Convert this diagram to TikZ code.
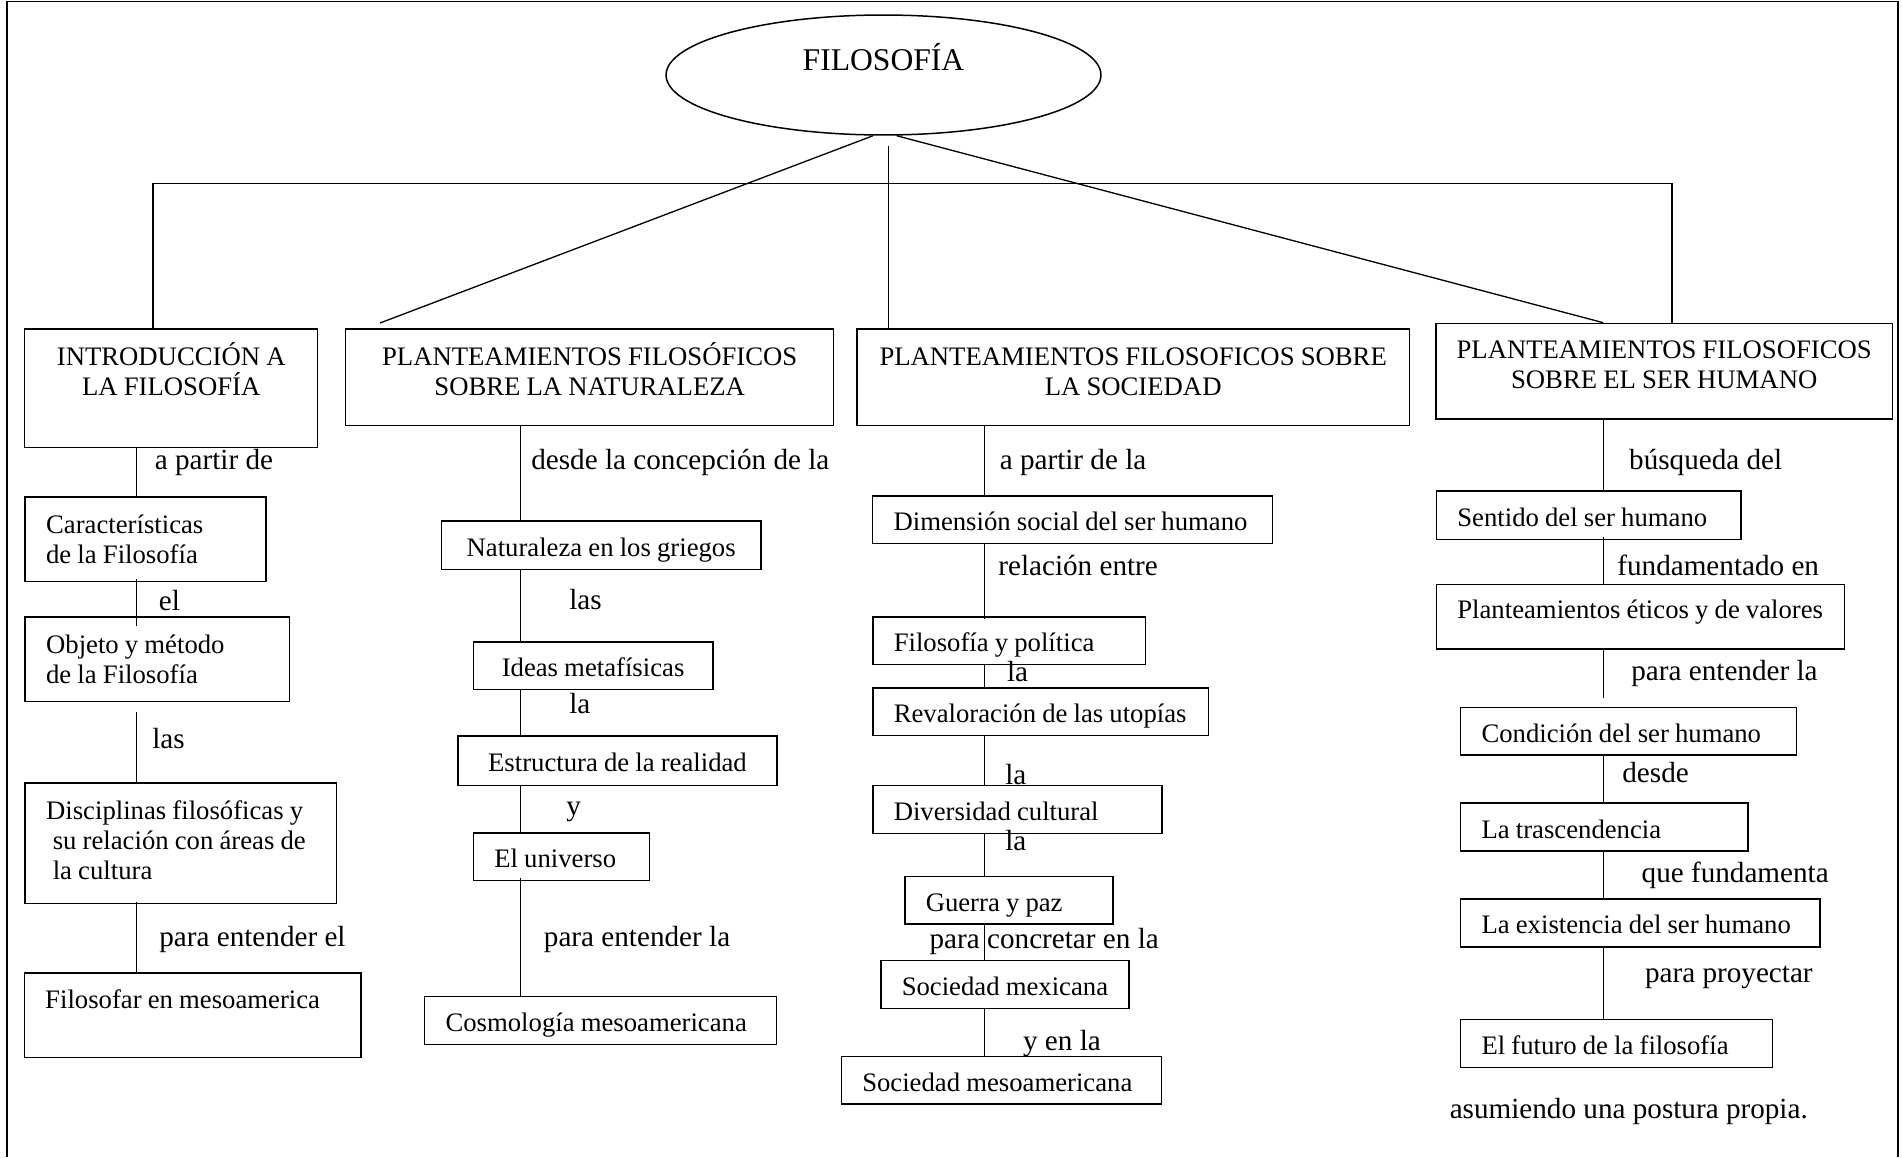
\documentclass[tikz,border=0pt]{standalone}
\usepackage{fontspec}
\setmainfont{Liberation Serif}
\usetikzlibrary{calc,shapes.geometric}
\newcommand{\fuentecaja}{\fontsize{15.2pt}{17.1pt}\selectfont}
\newcommand{\fuenterotulo}{\fontsize{16.6pt}{19pt}\selectfont}
\newcommand{\fuentetema}{\fontsize{18pt}{21pt}\selectfont}
\tikzset{
  marco/.style={line width=1pt},
  enlace/.style={line width=0.75pt},
  tema/.style={draw, ellipse, line width=0.85pt, inner sep=0pt, font=\fuentetema, text height=14pt, text depth=18.9pt},
  cajabase/.style={draw, line width=0.85pt, anchor=north west, inner sep=0pt, font=\fuentecaja, text height=14pt, text depth=1.5pt,
    execute at begin node={\spaceskip=0.23em\relax}},
  caja/.style={cajabase, align=left, execute at begin node={\leftskip=0.42cm}},
  cajac/.style={cajabase, align=center},
  rotulo/.style={anchor=base west, inner sep=0pt, font=\fuenterotulo}
}

\begin{document}
\begin{tikzpicture}[x=0.02cm, y=-0.02cm]
  \useasboundingbox (0,0) rectangle (1902,1157);
  \draw[marco] (7,1157) -- (7,1.5) -- (1898,1.5) -- (1898,1157);

  \node[tema, minimum width=8.7cm, minimum height=2.4cm] (filo) at (883.5,75) {FILOSOFÍA};

  % cabezas
  \node[cajac, text width=5.86cm, minimum height=2.38cm, text depth=39.6pt] (intro) at (24,328) {INTRODUCCIÓN A\\LA FILOSOFÍA};
  \node[cajac, text width=9.76cm, minimum height=1.94cm, text depth=27.1pt] (hnat) at (345,328) {PLANTEAMIENTOS FILOSÓFICOS\\SOBRE LA NATURALEZA};
  \node[cajac, text width=11.06cm, minimum height=1.94cm, text depth=27.1pt] (hsoc) at (856,328) {PLANTEAMIENTOS FILOSOFICOS SOBRE\\LA SOCIEDAD};
  \node[cajac, text width=9.14cm, minimum height=1.91cm, text depth=28.2pt] (hhum) at (1435,322.7) {PLANTEAMIENTOS FILOSOFICOS\\SOBRE EL SER HUMANO};

  % columna 1
  \node[caja, text width=4.82cm, minimum height=1.69cm, text depth=20.3pt] (carac) at (24.4,496.3) {Características\\de la Filosofía};
  \node[caja, text width=5.29cm, minimum height=1.70cm, text depth=20.8pt] (objeto) at (24.4,616) {Objeto y método\\de la Filosofía};
  \node[caja, text width=6.23cm, minimum height=2.42cm, text depth=41.3pt] (disc) at (24.4,782) {Disciplinas filosóficas y\\\hspace*{0.25em}su relación con áreas de\\\hspace*{0.25em}la cultura};
  \node[caja, text width=6.74cm, minimum height=1.69cm, text depth=21pt] (filosofar) at (23.5,972) {Filosofar en mesoamerica};

  % columna 2
  \node[cajac, text width=6.39cm, minimum height=0.97cm] (natur) at (440.7,520.4) {Naturaleza en los griegos};
  \node[cajac, text width=4.79cm, minimum height=0.95cm] (ideas) at (472.6,641) {Ideas metafísicas};
  \node[cajac, text width=6.39cm, minimum height=0.99cm] (estru) at (457,735) {Estructura de la realidad};
  \node[caja, text width=3.52cm, minimum height=0.95cm] (univ) at (472.6,832.4) {El universo};
  \node[caja, text width=7.04cm, minimum height=0.96cm] (cosmo) at (423.8,995.6) {Cosmología mesoamericana};

  % columna 3
  \node[caja, text width=8.0cm, minimum height=0.95cm] (dim) at (871.8,495) {Dimensión social del ser humano};
  \node[caja, text width=5.46cm, minimum height=0.95cm] (filpol) at (872,616.4) {Filosofía y política};
  \node[caja, text width=6.72cm, minimum height=0.95cm] (reval) at (872,687.3) {Revaloración de las utopías};
  \node[caja, text width=5.79cm, minimum height=0.96cm] (divers) at (872,784.5) {Diversidad cultural};
  \node[caja, text width=4.17cm, minimum height=0.95cm] (guerra) at (904,875.7) {Guerra y paz};
  \node[caja, text width=4.97cm, minimum height=0.96cm] (socmex) at (880,959.5) {Sociedad mexicana};
  \node[caja, text width=6.41cm, minimum height=0.95cm] (socmeso) at (840.5,1055.7) {Sociedad mesoamericana};

  % columna 4
  \node[caja, text width=6.09cm, minimum height=0.97cm] (sentido) at (1435.6,490.3) {Sentido del ser humano};
  \node[caja, text width=8.16cm, minimum height=1.29cm, text depth=11.7pt] (eticos) at (1435.6,583.8) {Planteamientos éticos y de valores};
  \node[caja, text width=6.72cm, minimum height=0.95cm] (cond) at (1459.8,706.8) {Condición del ser humano};
  \node[caja, text width=5.75cm, minimum height=0.96cm] (trasc) at (1459.8,802.3) {La trascendencia};
  \node[caja, text width=7.19cm, minimum height=0.96cm] (exist) at (1459.8,898.2) {La existencia del ser humano};
  \node[caja, text width=6.24cm, minimum height=0.96cm] (futuro) at (1459.8,1018.8) {El futuro de la filosofía};

  % rotulos de enlace
  \foreach \x/\y/\txt [count=\i] in {154.5/469/{a partir de}, 158.5/610/{el}, 152/748/{las}, 159/946.5/{para entender el},
      531/469/{desde la concepción de la}, 569/609/{las}, 569/713.5/{la}, 566/815/{y}, 543.6/946.5/{para entender la},
      999.4/469/{a partir de la}, 998/575.5/{relación entre}, 1006.7/681.7/{la}, 1005/784/{la}, 1005/850.7/{la},
      929.3/948.3/{para concretar en la}, 1022.7/1050/{y en la},
      1628.8/469/{búsqueda del}, 1617/575.5/{fundamentado en}, 1631/680/{para entender la}, 1622/782/{desde},
      1641.3/882.5/{que fundamenta}, 1644.7/982/{para proyectar}, 1449.4/1118/{asumiendo una postura propia.}}
    \node[rotulo] (rot\i) at (\x,\y) {\txt};

  \coordinate (c1) at (136.4,0);
  \coordinate (c2) at (520.3,0);
  \coordinate (c3) at (984.5,0);
  \coordinate (c4) at (1603.3,0);
  \coordinate (barraI) at (153,183.3);
  \coordinate (barraD) at (1672,183.3);
  \coordinate (tallo) at (888.3,145.7);
  \coordinate (diagI) at (380,323);

  % arriba
  \draw[enlace] (intro.north -| barraI) -- (barraI) -- (barraD) -- (hhum.north -| barraD);
  \draw[enlace] (tallo) -- (hsoc.north -| tallo);
  \draw[enlace] ($(filo.south)+(-10.5,0)$) -- (diagI);
  \draw[enlace] ($(filo.south)+(13.2,0)$) -- (hhum.north -| c4);

  % columna 1
  \draw[enlace] (intro.south -| c1) -- (carac.north -| c1);
  \draw[enlace] ($(carac.south -| c1)+(0,-3)$) -- ($(objeto.north -| c1)+(0,10)$);
  \draw[enlace] ($(objeto.south -| c1)+(0,10)$) -- (disc.north -| c1);
  \draw[enlace] ($(disc.south -| c1)+(0,-2)$) -- (filosofar.north -| c1);

  % columna 2
  \draw[enlace] (hnat.south -| c2) -- (natur.north -| c2);
  \draw[enlace] (natur.south -| c2) -- (ideas.north -| c2);
  \draw[enlace] (ideas.south -| c2) -- (estru.north -| c2);
  \draw[enlace] (estru.south -| c2) -- (univ.north -| c2);
  \draw[enlace] ($(univ.south -| c2)+(0,-3)$) -- (cosmo.north -| c2);

  % columna 3
  \draw[enlace] (hsoc.south -| c3) -- (dim.north -| c3);
  \draw[enlace] (dim.south -| c3) -- ($(filpol.north -| c3)+(0,3)$);
  \draw[enlace] (filpol.south -| c3) -- (reval.north -| c3);
  \draw[enlace] (reval.south -| c3) -- (divers.north -| c3);
  \draw[enlace] (divers.south -| c3) -- (guerra.north -| c3);
  \draw[enlace] (guerra.south -| c3) -- (socmex.north -| c3);
  \draw[enlace] (socmex.south -| c3) -- (socmeso.north -| c3);

  % columna 4
  \draw[enlace] (hhum.south -| c4) -- (sentido.north -| c4);
  \draw[enlace] ($(sentido.south -| c4)+(0,-3)$) -- (eticos.north -| c4);
  \draw[enlace] (eticos.south -| c4) -- ($(cond.north -| c4)+(0,-9)$);
  \draw[enlace] (cond.south -| c4) -- (trasc.north -| c4);
  \draw[enlace] (trasc.south -| c4) -- (exist.north -| c4);
  \draw[enlace] (exist.south -| c4) -- (futuro.north -| c4);
\end{tikzpicture}
\end{document}
